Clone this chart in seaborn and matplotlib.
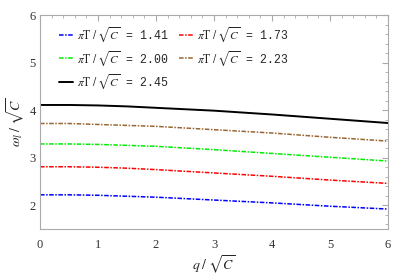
import numpy as np
import pandas as pd
import matplotlib.pyplot as plt
import seaborn as sns
from matplotlib.ticker import MultipleLocator

# values
q = [0, 0.5, 1, 1.5, 2, 3, 4, 5, 6]
w_141 = [2.22, 2.22, 2.21, 2.19, 2.17, 2.11, 2.05, 1.98, 1.92]
w_173 = [2.81, 2.81, 2.80, 2.78, 2.75, 2.68, 2.61, 2.53, 2.46]
w_200 = [3.29, 3.29, 3.28, 3.26, 3.24, 3.17, 3.09, 3.01, 2.93]
w_223 = [3.72, 3.72, 3.70, 3.68, 3.66, 3.59, 3.52, 3.43, 3.35]
w_245 = [4.11, 4.11, 4.10, 4.08, 4.05, 3.99, 3.91, 3.82, 3.73]
temps = ["1.41", "1.73", "2.00", "2.23", "2.45"]

sns.set_style("white")
plt.rcParams['mathtext.fontset'] = 'stix'
plt.rcParams['font.family'] = ['Liberation Serif', 'DejaVu Serif']

series = [w_141, w_173, w_200, w_223, w_245]
colors = ["#0000ff", "#ff0000", "#00ee00", "#996633", "#000000"]
styles = [(0, (3, 1, 1, 1))] * 4 + ["-"]
widths = [1.1, 1.1, 1.1, 1.1, 1.4]

fig = plt.figure(figsize=(3.98, 2.80), dpi=100)
ax = fig.add_axes([0.1005, 0.182, 0.8745, 0.764])

handles = []
for vals, c, ls, lw, t in zip(series, colors, styles, widths, temps):
    df = pd.DataFrame({"q": q, "w": vals})
    sns.lineplot(data=df, x="q", y="w", color=c, linestyle=ls, linewidth=lw, ax=ax)
    handles.append(ax.lines[-1])

labels = [r"$\pi\mathrm{T}\;/\;\sqrt{C}$ = " + t for t in temps]
order = [0, 2, 4, 1, 3]
ax.legend([handles[i] for i in order], [labels[i] for i in order],
          ncol=2, loc="upper left", frameon=False, handlelength=1.3,
          handletextpad=0.3, columnspacing=0.9, labelspacing=0.38,
          prop={"family": "Liberation Mono", "size": 8.3},
          bbox_to_anchor=(0.03, 0.99), borderaxespad=0.3)

ax.set_xlim(0, 6)
ax.set_ylim(1.5, 6)
ax.xaxis.set_major_locator(MultipleLocator(1))
ax.xaxis.set_minor_locator(MultipleLocator(0.2))
ax.yaxis.set_major_locator(MultipleLocator(1))
ax.yaxis.set_minor_locator(MultipleLocator(0.2))
ax.tick_params(which="both", direction="in", top=True, right=True,
               color="#aaaaaa", labelsize=9, labelcolor="#333333")
ax.tick_params(axis="x", pad=7)
ax.tick_params(axis="y", pad=3)
ax.tick_params(which="major", length=4, width=0.8)
ax.tick_params(which="minor", length=2, width=0.6)
ax.tick_params(axis="x", which="both", labeltop=False)
ax.tick_params(axis="y", which="both", labelright=False)
for s in ax.spines.values():
    s.set_color("#aaaaaa")
    s.set_linewidth(0.8)

ax.set_xlabel(r"$q\;/\;\sqrt{C}$", fontsize=10, labelpad=2)
ax.set_ylabel(r"$\omega_l\;/\;\sqrt{C}$", fontsize=10, labelpad=2)

fig.savefig("out.png", dpi=100)
